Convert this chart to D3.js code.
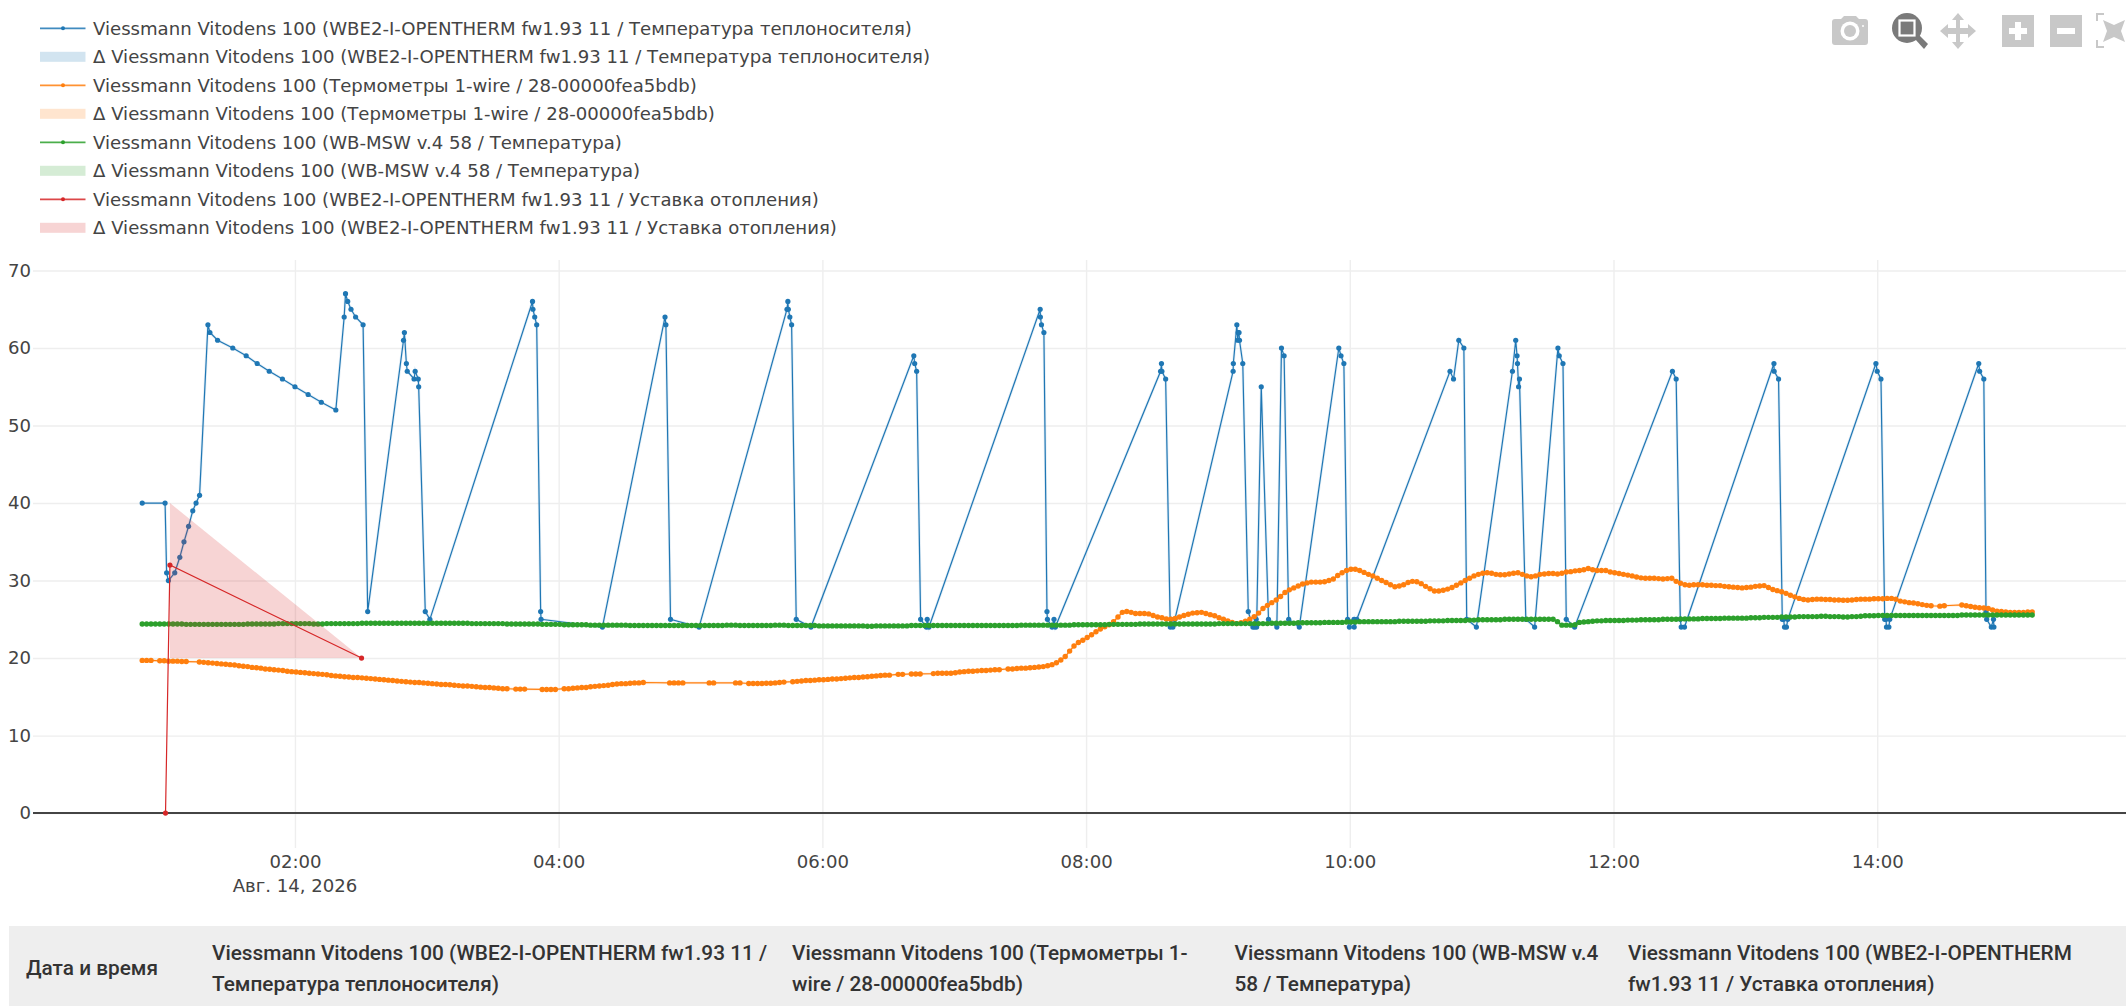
<!DOCTYPE html>
<html>
<head>
<meta charset="utf-8">
<script src="https://cdn.jsdelivr.net/npm/d3@7"></script>
<style>
  html, body { margin: 0; padding: 0; background: #fff; overflow: hidden; }
  svg { display: block; }
  text { font-family: "DejaVu Sans", sans-serif; fill: #444; }
</style>
</head>
<body>
<svg width="2126" height="1006"></svg>
<script>
// [minutes since 00:00, value]
const coolantPoints = [
  [50.5,40],[60.9,40],[61.6,31],[62.4,30],[65.3,31],[67.6,33],[69.5,35],[71.6,37],[73.5,39],[75,40],[76.6,41],
  [80.4,63],[81.3,62],[84.8,61],[91.7,60],[97.8,59],[102.8,58],[108.3,57],[114.3,56],[120,55],[126,54],[132,53],[138.6,52],
  [142.4,64],[143,67],[144,66],[145.5,65],[147.6,64],[151,63],[153.1,26],
  [169.4,61],[169.8,62],[170.7,58],[171.1,57],[174.2,56],[174.7,57],[176.1,56],[176.3,55],[179.3,26],[181.4,25],
  [228.1,66],[228.3,65],[229.1,64],[230,63],[231.8,26],[232,25],[259.9,24],
  [288.4,64],[288.8,63],[290.9,25],[303.9,24],
  [343.9,65],[344.3,66],[344.5,65],[345.2,64],[346,63],[348.1,25],[354.8,24],
  [401.6,59],[402,58],[402.9,57],[404.7,25],[407.3,24],[407.7,25],[408.5,24],
  [459.1,65],[459.2,64],[459.7,63],[460.8,62],[462.2,26],[462.4,25],[464.5,24],[465.4,25],[466,24],
  [513.9,57],[514.3,58],[514.5,57],[516.2,56],[518.3,24],[518.7,25],[519.5,24],[520.4,25],
  [546.9,57],[547,58],[548.6,63],[549,61],[549.2,62],[549.6,62],[549.8,61],[551.3,58],[553.8,26],[555.9,24],[556.7,24],[557.4,25],[557.6,24],
  [559.7,55],[563,25],[566.8,24],
  [568.9,60],[570.1,59],[572.2,25],[577,24],
  [595,60],[596,59],[597.3,58],[599,25],[599.8,24],[601.9,25],[602,24],[603.2,25],
  [645.6,57],[647.2,56],[649.6,61],[651.9,60],[653.2,25],[657.6,24],
  [674,57],[675.5,61],[676.1,59],[676.3,58],[676.8,55],[677.2,56],[680.1,25],[684.1,24],
  [694.7,60],[695.3,59],[697,58],[698.5,25],[702.3,24],
  [746.8,57],[748.5,56],[750.4,25],[750.8,24],[752.3,24],
  [793,58],[793.1,57],[795.1,56],[796.8,25],[797.4,25],[797.8,24],[798.7,24],[799.3,25],
  [839.4,58],[840,57],[841.7,56],[843.4,25],[844,25],[844.2,24],[845.3,24],[845.7,25],
  [886.2,58],[886.6,57],[888.5,56],[889.5,26],[889.8,25],[891.9,24],[892.9,25],[893.1,24]
];

const setpointPoints = [[61.1,0],[63.1,32],[150.3,20]];
const setpointBandTop = [[63.1,40],[150.3,20]];
const setpointBandBottom = [[63.1,20],[150.3,20]];

// both sensors report every 2 minutes from 00:50:30, null = sample missing
const sampleStart = 50.5;
const sampleStep = 2;

const oneWireTemp = [
  19.7,19.7,19.7,null,19.65,19.65,19.6,19.6,19.6,19.55,
  19.55,null,null,19.5,19.45,19.4,19.35,19.3,19.25,19.2,
  19.15,19.1,19.0,18.95,18.9,18.8,18.75,18.7,18.6,18.55,
  18.5,18.45,18.4,18.3,18.25,18.2,18.15,18.1,18.05,18.0,
  17.95,17.9,17.85,17.75,17.7,17.65,17.6,17.55,17.5,17.5,
  17.45,17.4,17.35,17.3,17.25,17.2,17.15,17.1,17.05,17.0,
  16.95,16.9,16.85,16.85,16.8,16.75,16.7,16.65,16.6,16.6,
  16.55,16.5,16.45,16.4,16.4,16.35,16.3,16.25,16.2,16.2,
  16.15,16.1,16.05,16.05,null,16.0,16.0,16.0,null,null,
  null,15.95,15.95,15.95,15.95,null,16.05,16.05,16.1,16.15,
  16.2,16.2,16.3,16.35,16.4,16.45,16.5,16.6,16.65,16.7,
  16.7,16.75,16.8,16.8,16.85,null,null,null,null,null,
  16.8,16.8,16.8,16.8,null,null,null,null,null,16.8,
  16.8,null,null,null,null,16.8,16.8,null,16.72,16.72,
  16.72,16.72,16.75,16.75,16.8,16.85,16.9,null,16.95,17.0,
  17.05,17.1,17.1,17.15,17.2,17.2,17.25,17.3,17.3,17.35,
  17.4,17.45,17.5,17.5,17.55,17.6,17.65,17.7,17.75,17.8,
  17.8,null,17.9,17.9,null,17.95,17.95,17.95,null,null,
  18.0,18.05,18.05,18.05,18.05,18.1,18.2,18.25,18.3,18.3,
  18.35,18.4,18.4,18.45,18.5,18.5,null,18.6,18.6,18.65,
  18.7,18.7,18.75,18.8,18.85,18.9,19.0,19.15,19.4,19.75,
  20.2,20.9,21.55,22.0,22.3,22.65,23.0,23.4,23.75,24.05,
  24.3,24.7,25.3,25.9,26.0,25.9,25.75,25.75,25.75,25.7,
  25.5,25.3,25.2,25.05,25.0,25.1,25.3,25.5,25.65,25.8,
  25.85,25.9,25.75,25.6,25.45,25.2,25.0,24.8,24.6,24.45,
  24.55,24.75,25.0,25.35,25.8,26.4,26.8,27.15,27.5,27.95,
  28.45,28.8,29.05,29.3,29.55,29.7,29.8,29.8,29.8,29.85,
  30.0,30.2,30.65,31.0,31.3,31.45,31.45,31.3,31.05,30.8,
  30.6,30.3,30.0,29.75,29.45,29.2,29.3,29.45,29.75,29.9,
  29.85,29.6,29.25,28.95,28.65,28.65,28.75,28.9,29.1,29.4,
  29.7,30.0,30.3,30.6,30.8,30.95,31.0,30.95,30.8,30.75,
  30.75,30.85,30.95,31.0,30.8,30.6,30.5,30.6,30.8,30.85,
  30.9,30.9,30.85,30.95,31.1,31.15,31.25,31.3,31.4,31.55,
  31.4,31.3,31.3,31.3,31.1,31.0,30.9,30.8,30.7,30.6,
  30.45,30.35,30.3,30.3,30.3,30.25,30.2,30.25,30.3,29.9,
  29.65,29.45,29.4,29.45,29.45,29.45,29.4,29.4,29.35,29.35,
  29.25,29.2,29.15,29.1,29.05,29.1,29.15,29.25,29.3,29.35,
  29.1,28.85,28.7,28.55,28.35,28.1,27.9,27.7,27.55,27.5,
  27.55,27.6,27.6,27.55,27.55,27.5,27.5,27.45,27.45,27.5,
  27.55,27.6,27.6,27.6,27.65,27.65,27.65,27.7,27.7,27.6,
  27.35,27.25,27.15,27.1,27.0,26.9,26.8,26.75,null,26.7,
  26.75,null,null,null,26.85,26.75,26.65,26.55,26.5,26.45,
  26.4,26.2,26.05,26.0,25.95,25.9,25.9,25.9,25.9,25.95,
  25.95
];

const mswTemp = [
  24.4,24.4,24.4,24.4,24.4,24.4,24.4,24.4,24.4,24.4,
  24.35,24.35,24.35,24.35,24.35,24.35,24.35,24.35,24.35,24.35,
  24.35,24.35,24.35,24.35,24.4,24.4,24.4,24.4,24.4,24.4,
  24.4,24.45,24.45,24.45,24.45,24.45,24.45,24.45,24.45,24.4,
  24.4,24.4,24.45,24.45,24.45,24.45,24.45,24.45,24.45,24.45,
  24.5,24.5,24.5,24.5,24.5,24.5,24.5,24.5,24.5,24.5,
  24.5,24.5,24.5,24.5,24.5,24.5,24.5,24.5,24.5,24.5,
  24.5,24.5,24.5,24.5,24.5,24.45,24.45,24.45,24.45,24.45,
  24.45,24.45,24.45,24.4,24.4,24.4,24.4,24.4,24.4,24.4,
  24.4,24.35,24.35,24.35,24.35,24.35,24.3,24.3,24.3,24.3,
  24.3,24.3,24.25,24.25,24.25,24.25,24.25,24.25,24.25,24.25,
  24.25,24.2,24.2,24.2,24.2,24.2,24.2,24.2,24.2,24.2,
  24.2,24.2,24.2,24.2,24.2,24.2,24.2,24.2,24.2,24.2,
  24.2,24.2,24.2,24.25,24.25,24.25,24.2,24.2,24.2,24.2,
  24.2,24.2,24.2,24.2,24.25,24.25,24.25,24.2,24.2,24.2,
  24.2,24.2,24.2,24.2,24.15,24.15,24.15,24.15,24.15,24.15,
  24.15,24.15,24.15,24.15,24.15,24.1,24.1,24.15,24.15,24.15,
  24.15,24.15,24.15,24.15,24.15,24.2,24.2,24.2,24.2,24.2,
  24.2,24.2,24.2,24.2,24.2,24.2,24.2,24.2,24.2,24.2,
  24.2,24.2,24.2,24.2,24.2,24.2,24.2,24.2,24.2,24.2,
  24.25,24.25,24.25,24.25,24.25,24.25,24.25,24.25,24.25,24.25,
  24.25,24.25,24.3,24.3,24.3,24.3,24.3,24.3,24.3,24.3,
  24.35,24.35,24.35,24.35,24.35,24.35,24.35,24.4,24.4,24.4,
  24.4,24.4,24.4,24.4,24.4,24.4,24.4,24.4,24.4,24.4,
  24.4,24.4,24.4,24.4,24.4,24.45,24.45,24.45,24.45,24.45,
  24.45,24.45,24.45,24.45,24.45,24.45,24.45,24.5,24.5,24.5,
  24.5,24.5,24.5,24.55,24.55,24.55,24.55,24.55,24.55,24.6,
  24.6,24.6,24.6,24.6,24.65,24.65,24.65,24.7,24.7,24.7,
  24.7,24.7,24.7,24.7,24.7,24.7,24.75,24.75,24.75,24.75,
  24.75,24.75,24.75,24.8,24.8,24.8,24.8,24.85,24.85,24.85,
  24.85,24.85,24.9,24.9,24.95,24.95,24.95,24.95,24.95,24.95,
  25.0,25.0,25.0,25.0,25.0,25.0,25.0,25.0,25.0,25.0,
  25.0,25.0,24.7,24.25,24.25,24.25,24.3,24.6,24.65,24.7,
  24.75,24.8,24.8,24.85,24.85,24.85,24.85,24.85,24.9,24.9,
  24.9,24.95,24.95,24.95,24.95,24.95,25.0,25.0,25.0,25.0,
  25.05,25.05,25.05,25.05,25.05,25.1,25.1,25.1,25.1,25.1,
  25.15,25.15,25.15,25.15,25.15,25.15,25.2,25.2,25.2,25.25,
  25.25,25.25,25.25,25.3,25.3,25.3,25.3,25.35,25.35,25.35,
  25.35,25.35,25.4,25.4,25.35,25.35,25.35,25.3,25.3,25.35,
  25.35,25.4,25.45,25.45,25.45,25.5,25.5,25.5,25.5,25.5,
  25.5,25.5,25.5,25.5,25.5,25.5,25.5,25.5,25.5,25.5,
  25.5,25.5,25.5,25.5,25.55,25.55,25.55,25.55,25.55,25.55,
  25.55,25.55,25.55,25.55,25.55,25.55,25.55,25.55,25.55,25.55,
  25.55
];

const legendLabels = [
  'Viessmann Vitodens 100 (WBE2-I-OPENTHERM fw1.93 11 / Температура теплоносителя)',
  'Δ Viessmann Vitodens 100 (WBE2-I-OPENTHERM fw1.93 11 / Температура теплоносителя)',
  'Viessmann Vitodens 100 (Термометры 1-wire / 28-00000fea5bdb)',
  'Δ Viessmann Vitodens 100 (Термометры 1-wire / 28-00000fea5bdb)',
  'Viessmann Vitodens 100 (WB-MSW v.4 58 / Температура)',
  'Δ Viessmann Vitodens 100 (WB-MSW v.4 58 / Температура)',
  'Viessmann Vitodens 100 (WBE2-I-OPENTHERM fw1.93 11 / Уставка отопления)',
  'Δ Viessmann Vitodens 100 (WBE2-I-OPENTHERM fw1.93 11 / Уставка отопления)'
];
const seriesColors = ['#1f77b4', '#ff7f0e', '#2ca02c', '#d62728'];

const yTicks = [0, 10, 20, 30, 40, 50, 60, 70];
const xTickHours = [2, 4, 6, 8, 10, 12, 14];

const tableHeaders = [
  ['Дата и время'],
  ['Viessmann Vitodens 100 (WBE2-I-OPENTHERM fw1.93 11 /', 'Температура теплоносителя)'],
  ['Viessmann Vitodens 100 (Термометры 1-', 'wire / 28-00000fea5bdb)'],
  ['Viessmann Vitodens 100 (WB-MSW v.4', '58 / Температура)'],
  ['Viessmann Vitodens 100 (WBE2-I-OPENTHERM', 'fw1.93 11 / Уставка отопления)']
];
const tableColumnX = [26, 212, 792, 1234.5, 1628];

const svg = d3.select('svg');
const plot = { left: 33, right: 2126, top: 260, bottom: 848 };
const fontSize = 18.1;

const toDate = m => new Date(2026, 7, 14, 0, 0, Math.round(m * 60));

const x = d3.scaleTime()
    .domain([toDate(0.8), toDate(953.2)])
    .range([plot.left, plot.right]);
const y = d3.scaleLinear()
    .domain([-4.5, 71.35])
    .range([plot.bottom, plot.top]);

// grid + axes
const xAxis = d3.axisBottom(x)
    .tickValues(xTickHours.map(h => toDate(h * 60)))
    .tickFormat(d3.timeFormat('%H:%M'))
    .tickSize(-(plot.bottom - plot.top))
    .tickPadding(7);
const yAxis = d3.axisLeft(y)
    .tickValues(yTicks)
    .tickSize(-(plot.right - plot.left))
    .tickPadding(2);

const styleAxis = g => {
  g.select('.domain').remove();
  g.selectAll('line').attr('stroke', '#eee').attr('stroke-width', 1.4);
  g.selectAll('text').attr('font-size', fontSize).attr('fill', '#444').attr('font-family', '"DejaVu Sans", sans-serif');
};
svg.append('g').attr('transform', `translate(0,${plot.bottom})`).call(xAxis).call(styleAxis);
svg.append('g').attr('transform', `translate(${plot.left},0)`).call(yAxis).call(styleAxis);

svg.append('text')
    .attr('x', x(toDate(120)))
    .attr('y', 892)
    .attr('text-anchor', 'middle')
    .attr('font-size', fontSize)
    .text('Авг. 14, 2026');

svg.append('line')
    .attr('x1', plot.left).attr('x2', plot.right)
    .attr('y1', y(0)).attr('y2', y(0))
    .attr('stroke', '#444').attr('stroke-width', 2);

const line = d3.line().x(d => x(toDate(d[0]))).y(d => y(d[1]));

const drawSeries = (points, color) => {
  const g = svg.append('g');
  // the Δ band is only a hair wide for these series, it shows as a halo
  g.append('path').attr('d', line(points)).attr('fill', 'none')
      .attr('stroke', color).attr('stroke-opacity', 0.12).attr('stroke-width', 2.8);
  g.append('path').attr('d', line(points)).attr('fill', 'none')
      .attr('stroke', color).attr('stroke-width', 1.2);
  return g;
};
const drawDots = (g, points, color, radius) => {
  g.selectAll('circle').data(points).enter().append('circle')
      .attr('cx', d => x(toDate(d[0])))
      .attr('cy', d => y(d[1]))
      .attr('r', radius)
      .attr('fill', color);
};

const sampled = values => values
    .map((v, i) => [sampleStart + i * sampleStep, v])
    .filter(d => d[1] !== null);

const oneWirePoints = sampled(oneWireTemp);
const mswPoints = sampled(mswTemp);

drawDots(drawSeries(coolantPoints, seriesColors[0]), coolantPoints, seriesColors[0], 2.6);
drawDots(drawSeries(oneWirePoints, seriesColors[1]), oneWirePoints, seriesColors[1], 2.7);
drawDots(drawSeries(mswPoints, seriesColors[2]), mswPoints, seriesColors[2], 2.7);

const setG = svg.append('g');
setG.append('path').attr('d', line(setpointPoints)).attr('fill', 'none')
    .attr('stroke', seriesColors[3]).attr('stroke-width', 1.2);
drawDots(setG, setpointPoints, seriesColors[3], 2.6);

const band = d3.area()
    .x(d => x(toDate(d[0])))
    .y0((d, i) => y(setpointBandBottom[i][1]))
    .y1(d => y(d[1]));
svg.append('path').attr('d', band(setpointBandTop))
    .attr('fill', seriesColors[3]).attr('fill-opacity', 0.2);

// legend
const legend = svg.append('g');
legendLabels.forEach((label, i) => {
  const rowY = 28.3 + i * 28.5;
  const color = seriesColors[Math.floor(i / 2)];
  if (i % 2 === 0) {
    legend.append('line').attr('x1', 40).attr('x2', 85.5).attr('y1', rowY).attr('y2', rowY)
        .attr('stroke', color).attr('stroke-width', 1.7).attr('stroke-opacity', 0.85);
    legend.append('circle').attr('cx', 63).attr('cy', rowY).attr('r', 2).attr('fill', color);
  } else {
    legend.append('rect').attr('x', 40).attr('y', rowY - 5).attr('width', 45.5).attr('height', 10)
        .attr('fill', color).attr('fill-opacity', 0.2);
  }
  legend.append('text').attr('x', 93).attr('y', rowY + 6.4).attr('font-size', fontSize).text(label);
});

// modebar
const modebar = svg.append('g').attr('fill', '#c8c8c8');
const camera = modebar.append('g');
camera.append('path').attr('d', 'M1832 22q0-3 3-3h6l3-3h12l3 3h6q3 0 3 3v20q0 3-3 3h-30q-3 0-3-3z');
camera.append('circle').attr('cx', 1850).attr('cy', 31).attr('r', 9.5).attr('fill', '#fff');
camera.append('circle').attr('cx', 1850).attr('cy', 31).attr('r', 6).attr('fill', '#c8c8c8');
camera.append('circle').attr('cx', 1863).attr('cy', 26).attr('r', 1).attr('fill', '#fff');

const zoomIcon = modebar.append('g').attr('fill', '#7a7a7a');
zoomIcon.append('circle').attr('cx', 1907).attr('cy', 28).attr('r', 15);
zoomIcon.append('path').attr('d', 'M1915 39l4-4 9 9-4 5z');
zoomIcon.append('rect').attr('x', 1899.5).attr('y', 20.5).attr('width', 15).attr('height', 15)
    .attr('fill', 'none').attr('stroke', '#fff').attr('stroke-width', 2.2);

modebar.append('path').attr('d',
    'M1958 13l6 7h-4v8h8v-4l8 7-8 7v-4h-8v8h4l-6 7-6-7h4v-8h-8v4l-8-7 8-7v4h8v-8h-4z');

modebar.append('path').attr('fill-rule', 'evenodd').attr('d',
    'M2002 15h32v32h-32zM2015 22v6h-6v6h6v6h6v-6h6v-6h-6v-6z');
modebar.append('path').attr('fill-rule', 'evenodd').attr('d',
    'M2050 15h32v32h-32zM2057 28v6h18v-6z');
modebar.append('path').attr('d',
    'M2096 13h8v2h-6v6h-2zM2096 48h8v-2h-6v-6h-2zM2103 20l11 5 11-5-4 11 4 11-11-5-11 5 4-11z');

// data table header
const table = svg.append('g');
table.append('rect').attr('x', 9).attr('y', 926).attr('width', 2117).attr('height', 80).attr('fill', '#eee');
tableHeaders.forEach((lines, c) => {
  lines.forEach((txt, l) => {
    table.append('text')
        .attr('x', tableColumnX[c])
        .attr('y', lines.length === 1 ? 975 : 960 + l * 31)
        .attr('font-size', 20.8)
        .attr('font-weight', 500)
        .style('font-family', 'Roboto, sans-serif')
        .style('fill', '#333')
        .text(txt);
  });
});
</script>
</body>
</html>
